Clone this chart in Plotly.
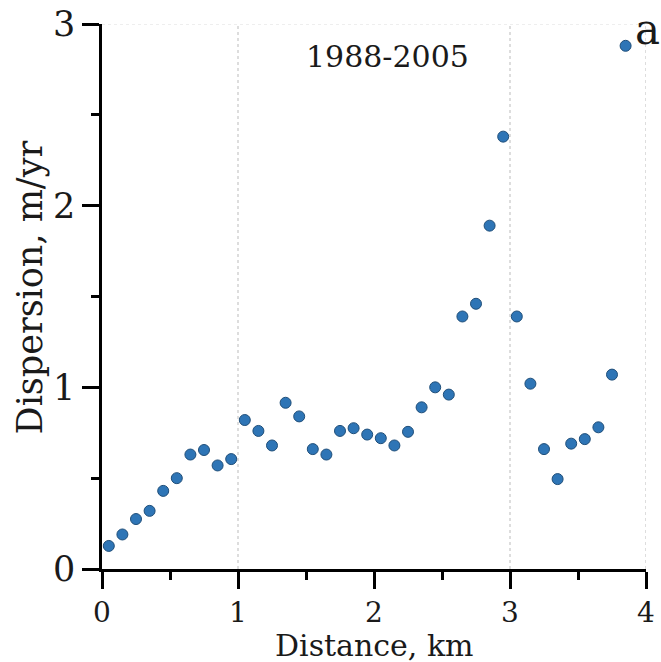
import plotly.graph_objects as go

distance_km = [0.05, 0.15, 0.25, 0.35, 0.45, 0.55, 0.65, 0.75, 0.85, 0.95,
               1.05, 1.15, 1.25, 1.35, 1.45, 1.55, 1.65, 1.75, 1.85, 1.95,
               2.05, 2.15, 2.25, 2.35, 2.45, 2.55, 2.65, 2.75, 2.85, 2.95,
               3.05, 3.15, 3.25, 3.35, 3.45, 3.55, 3.65, 3.75, 3.85]
dispersion = [0.127, 0.19, 0.275, 0.32, 0.43, 0.50, 0.63, 0.655, 0.57, 0.605,
              0.82, 0.76, 0.68, 0.915, 0.84, 0.66, 0.63, 0.76, 0.775, 0.74,
              0.72, 0.68, 0.755, 0.89, 1.00, 0.96, 1.39, 1.46, 1.89, 2.38,
              1.39, 1.02, 0.66, 0.495, 0.69, 0.715, 0.78, 1.07, 2.88]
x_ticks = [0, 1, 2, 3, 4]
y_ticks = [0, 1, 2, 3]
grid_x = [1, 3, 4]
period_label = "1988-2005"
panel_label = "a"
x_title = "Distance, km"
y_title = "Dispersion, m/yr"

FONT = "DejaVu Serif"
TXT = "#1a1a1a"

fig = go.Figure()
fig.add_trace(go.Scatter(
    x=distance_km, y=dispersion, mode="markers",
    marker=dict(size=11, color="#2e75b6", line=dict(color="#1f4e79", width=1)),
    cliponaxis=False, showlegend=False,
))

for gx in grid_x:
    fig.add_vline(x=gx, line=dict(color="#bbbbbb", width=1, dash="dot"), layer="below")
fig.add_hline(y=3, line=dict(color="#dddddd", width=1, dash="dot"), layer="below")

fig.add_annotation(x=2.1, y=2.82, xref="x", yref="y", text=period_label, showarrow=False,
                   font=dict(family=FONT, size=30, color=TXT))
fig.add_annotation(x=1.002, y=0.99, xref="paper", yref="paper", text=panel_label, showarrow=False,
                   xanchor="center", yanchor="middle",
                   font=dict(family=FONT, size=42, color=TXT))

# axis titles
fig.add_annotation(x=0.5, y=-0.14, xref="paper", yref="paper", text=x_title, showarrow=False,
                   xanchor="center", yanchor="middle",
                   font=dict(family=FONT, size=30, color=TXT))
fig.add_annotation(x=-0.132, y=0.517, xref="paper", yref="paper", text=y_title, showarrow=False,
                   textangle=-90, xanchor="center", yanchor="middle",
                   font=dict(family=FONT, size=35, color=TXT))

axis_common = dict(
    showline=True, linecolor="black", linewidth=2.5,
    ticks="outside", ticklen=17, tickwidth=2.5, tickcolor="black",
    showgrid=False, zeroline=False, automargin=False,
    minor=dict(ticks="outside", ticklen=8, tickwidth=2.5, tickcolor="black", dtick=0.5, showgrid=False),
)

fig.update_xaxes(range=[0, 4], tickvals=x_ticks, ticklabelstandoff=0,
                 tickfont=dict(family=FONT, size=28, color=TXT), **axis_common)
fig.update_yaxes(range=[0, 3], tickvals=y_ticks,
                 tickfont=dict(family=FONT, size=35, color=TXT), **axis_common)

fig.update_layout(
    width=661, height=662,
    margin=dict(l=102, r=15, t=24, b=93),
    plot_bgcolor="white", paper_bgcolor="white",
)

fig.write_html("out.html", config={"displayModeBar": False},
               post_script="document.body.style.margin='0';document.body.style.overflow='hidden';")
